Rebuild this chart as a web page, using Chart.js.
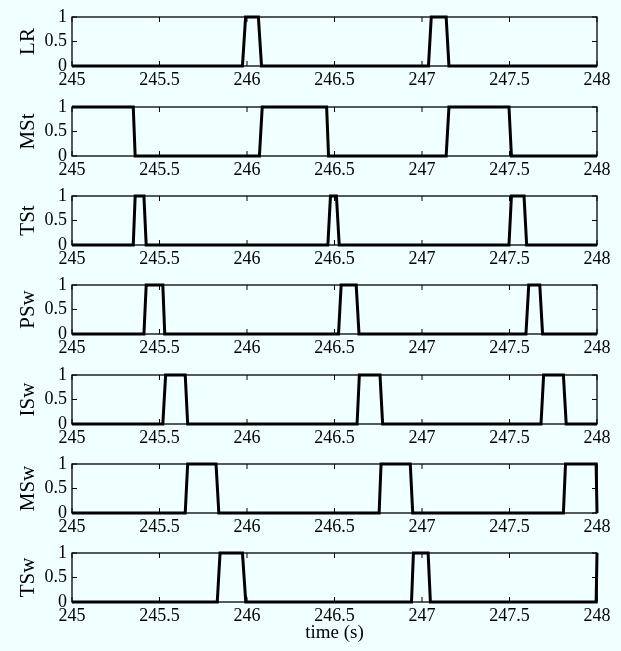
<!DOCTYPE html>
<html><head><meta charset="utf-8">
<script src="https://cdn.jsdelivr.net/npm/chart.js@4/dist/chart.umd.min.js"></script>
<style>
html,body{margin:0;padding:0;background:#fff;}
#fig{position:absolute;left:0;top:0;width:621px;height:651px;background:#f0ffff;}
canvas{position:absolute;left:0;}
</style></head><body><div id="fig"></div>
<script>
const xTicks = [245, 245.5, 246, 246.5, 247, 247.5, 248];
const yTicks = [0, 0.5, 1];
const names = ['LR', 'MSt', 'TSt', 'PSw', 'ISw', 'MSw', 'TSw'];

const LR_t  = [245, 245.974, 245.992, 246.065, 246.083, 247.037, 247.053, 247.138, 247.154, 248];
const LR_v  = [0, 0, 1, 1, 0, 0, 1, 1, 0, 0];
const MSt_t = [245, 245.350, 245.361, 246.071, 246.087, 246.455, 246.466, 247.138, 247.154, 247.497, 247.511, 248];
const MSt_v = [1, 1, 0, 0, 1, 1, 0, 0, 1, 1, 0, 0];
const TSt_t = [245, 245.350, 245.361, 245.411, 245.424, 246.462, 246.477, 246.511, 246.527, 247.497, 247.511, 247.583, 247.598, 248];
const TSt_v = [0, 0, 1, 1, 0, 0, 1, 1, 0, 0, 1, 1, 0, 0];
const PSw_t = [245, 245.411, 245.424, 245.519, 245.530, 246.523, 246.538, 246.624, 246.640, 247.594, 247.610, 247.673, 247.689, 248];
const PSw_v = [0, 0, 1, 1, 0, 0, 1, 1, 0, 0, 1, 1, 0, 0];
const ISw_t = [245, 245.519, 245.535, 245.647, 245.661, 246.629, 246.642, 246.760, 246.775, 247.680, 247.695, 247.808, 247.824, 248];
const ISw_v = [0, 0, 1, 1, 0, 0, 1, 1, 0, 0, 1, 1, 0, 0];
const MSw_t = [245, 245.647, 245.661, 245.823, 245.839, 246.755, 246.766, 246.933, 246.947, 247.808, 247.820, 247.995, 248];
const MSw_v = [0, 0, 1, 1, 0, 0, 1, 1, 0, 0, 1, 1, 0];
const TSw_t = [245, 245.830, 245.846, 245.974, 245.993, 246.940, 246.951, 247.035, 247.048, 247.995, 248];
const TSw_v = [0, 0, 1, 1, 0, 0, 1, 1, 0, 0, 1];

const series = [[LR_t, LR_v], [MSt_t, MSt_v], [TSt_t, TSt_v], [PSw_t, PSw_v], [ISw_t, ISw_v], [MSw_t, MSw_v], [TSw_t, TSw_v]];
const canvasTops = [0, 90, 179, 268, 358, 447, 536];

const boxPlugin = {
  id: 'box',
  beforeDatasetsDraw(chart) {
    const {ctx, chartArea: a, scales: {x, y}} = chart;
    ctx.save();
    ctx.strokeStyle = '#000';
    ctx.lineWidth = 1.3;
    ctx.strokeRect(a.left, a.top, a.right - a.left, a.bottom - a.top);
    ctx.beginPath();
    x.ticks.forEach(t => {
      const px = x.getPixelForValue(t.value);
      ctx.moveTo(px, a.bottom); ctx.lineTo(px, a.bottom - 5);
      ctx.moveTo(px, a.top); ctx.lineTo(px, a.top + 5);
    });
    y.ticks.forEach(t => {
      const py = y.getPixelForValue(t.value);
      ctx.moveTo(a.left, py); ctx.lineTo(a.left + 5, py);
      ctx.moveTo(a.right, py); ctx.lineTo(a.right - 5, py);
    });
    ctx.lineWidth = 1;
    ctx.stroke();
    ctx.restore();
  }
};

const fig = document.getElementById('fig');
const serif = "'Liberation Serif', 'Times New Roman', serif";

names.forEach((name, i) => {
  const last = i === names.length - 1;
  const H = last ? 115 : 90;
  const cv = document.createElement('canvas');
  cv.width = 621; cv.height = H;
  cv.style.top = canvasTops[i] + 'px';
  fig.appendChild(cv);
  const [tt, vv] = series[i];
  new Chart(cv, {
    type: 'scatter',
    data: {
      datasets: [{
        data: tt.map((t, k) => ({x: t, y: vv[k]})),
        showLine: true,
        borderColor: '#000',
        borderWidth: 3,
        pointRadius: 0,
        tension: 0,
        fill: false,
        clip: false
      }]
    },
    options: {
      responsive: false,
      animation: false,
      devicePixelRatio: 1,
      layout: {padding: {top: 17, right: 24, left: 0, bottom: 0}},
      plugins: {legend: {display: false}, tooltip: {enabled: false}},
      scales: {
        x: {
          type: 'linear', min: 245, max: 248,
          afterBuildTicks: s => { s.ticks = xTicks.map(v => ({value: v})); },
          afterFit: s => { s.height = H - 66; },
          grid: {display: false, drawTicks: false},
          border: {display: false},
          ticks: {padding: 3, color: '#000', font: {family: serif, size: 18}, callback: v => String(v), maxRotation: 0, autoSkip: false},
          title: {display: last, text: 'time (s)', color: '#000', font: {family: serif, size: 19}, padding: {top: 0, bottom: 7}}
        },
        y: {
          type: 'linear', min: 0, max: 1,
          afterBuildTicks: s => { s.ticks = yTicks.map(v => ({value: v})); },
          afterFit: s => { s.width = 72; },
          grid: {display: false, drawTicks: false},
          border: {display: false},
          ticks: {padding: 5, color: '#000', font: {family: serif, size: 18}, callback: v => String(v), autoSkip: false},
          title: {display: true, text: name, color: '#000', font: {family: serif, size: 21}, padding: {top: 16, bottom: 0}}
        }
      }
    },
    plugins: [boxPlugin]
  });
});
</script>
</body></html>
